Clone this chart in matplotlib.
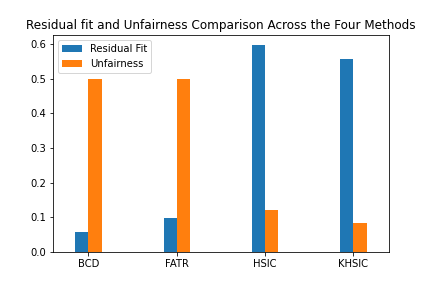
import matplotlib
matplotlib.use("Agg")
import matplotlib.pyplot as plt
import numpy as np

methods = ["BCD", "FATR", "HSIC", "KHSIC"]
residual_fit = [0.058, 0.098, 0.596, 0.558]
unfairness = [0.5, 0.5, 0.121, 0.084]

fig = plt.figure(figsize=(6, 4), dpi=72)
ax = fig.add_axes([0.123, 0.125, 0.777, 0.753])
x = np.arange(len(methods))
w = 0.15
ax.bar(x - w / 2, residual_fit, w, label="Residual Fit", color="#1f77b4")
ax.bar(x + w / 2, unfairness, w, label="Unfairness", color="#ff7f0e")
ax.set_xticks(x)
ax.set_xticklabels(methods)
ax.set_xlim(-0.4, 3.4)
ax.set_title("Residual fit and Unfairness Comparison Across the Four Methods")
ax.legend(loc="upper left")
fig.savefig("out.png", dpi=72)
